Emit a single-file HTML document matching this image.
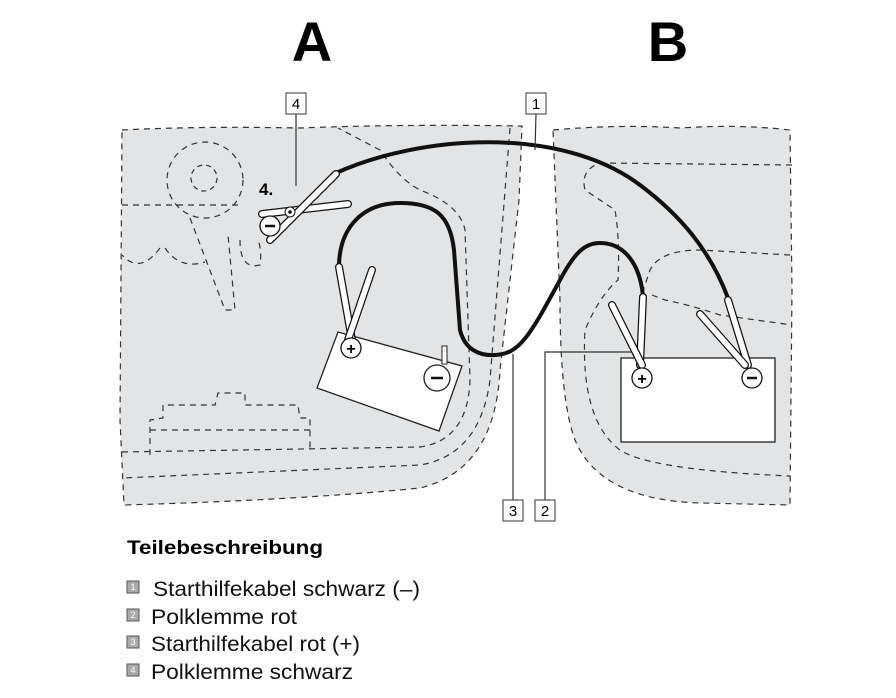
<!DOCTYPE html>
<html><head><meta charset="utf-8"><style>
html,body{margin:0;padding:0;background:#fff;width:896px;height:698px;overflow:hidden}
svg{display:block}
</style></head><body>
<svg width="896" height="698" viewBox="0 0 896 698" xmlns="http://www.w3.org/2000/svg" font-family="Liberation Sans, Arial, sans-serif">
<text x="312" y="61" font-size="56" font-weight="bold" text-anchor="middle">A</text>
<text x="668" y="61" font-size="56" font-weight="bold" text-anchor="middle">B</text>

<!-- car A -->
<path d="M122,130 Q200,126 300,128 Q400,124 522,126 L519,200 L500,370 Q495,470 420,488 Q300,500 124,505 L120,420 L122,130Z" fill="#e3e4e5" stroke="#333" stroke-width="1.2" stroke-dasharray="6,5"/>
<path d="M510,128 L490,380 Q480,455 420,465 L122,478" fill="none" stroke="#333" stroke-width="1.2" stroke-dasharray="6,5"/>
<path d="M122,452 L420,447 Q468,440 470,380 L465,230 Q460,205 420,190 Q400,180 380,150 L338,128" fill="none" stroke="#333" stroke-width="1.2" stroke-dasharray="6,5"/>
<circle cx="205" cy="180" r="38" fill="none" stroke="#333" stroke-width="1.2" stroke-dasharray="6,5"/>
<circle cx="204" cy="178" r="13" fill="none" stroke="#333" stroke-width="1.2" stroke-dasharray="5,4"/>
<path d="M122,205 L240,205 M190,218 L225,310 L235,310 L228,235 M160,248 Q140,275 122,255 M165,248 Q180,270 205,262 M240,240 Q240,270 260,265 Q262,250 258,240" fill="none" stroke="#333" stroke-width="1.2" stroke-dasharray="6,5"/>
<path d="M150,455 L150,420 L163,418 L163,405 L215,405 L218,393 L245,393 L245,405 L298,405 L300,418 L310,418 L310,448 M150,430 L310,430" fill="none" stroke="#333" stroke-width="1.2" stroke-dasharray="6,5"/>

<!-- car B -->
<path d="M553,130 Q620,124 680,128 Q740,124 790,130 L792,290 L790,505 L700,503 Q600,500 575,440 Q560,400 560,300 L553,130Z" fill="#e3e4e5" stroke="#333" stroke-width="1.2" stroke-dasharray="6,5"/>
<path d="M792,165 L600,163 Q580,170 585,190 Q600,200 615,210 Q620,240 618,280 Q600,295 585,330 Q580,420 620,450 Q650,470 790,476" fill="none" stroke="#333" stroke-width="1.2" stroke-dasharray="6,5"/>
<path d="M790,255 L700,250 Q660,250 650,270 L640,300 M652,295 L665,300 Q690,305 720,315 L792,325" fill="none" stroke="#333" stroke-width="1.2" stroke-dasharray="6,5"/>

<!-- batteries -->
<polygon points="317,388 338,332 462,366 439,431" fill="#fff" stroke="#222" stroke-width="1.3"/>
<rect x="621" y="358" width="154" height="84" fill="#fff" stroke="#222" stroke-width="1.3"/>
<rect x="442" y="346" width="5" height="18" fill="#fff" stroke="#222"/>
<circle cx="437" cy="378" r="13" fill="#fff" stroke="#222" stroke-width="1.3"/>
<line x1="431" y1="378" x2="443" y2="378" stroke="#111" stroke-width="2.5"/>

<!-- cables -->
<path d="M336,173 C420,135 560,125 640,185 C680,215 710,250 728,298" fill="none" stroke="#111" stroke-width="4"/>
<path d="M339,265 C340,225 365,203 400,203 C435,203 450,215 454,250 L460,330 C465,350 480,356 495,355 C520,354 530,335 560,280 C575,252 585,243 600,243 C625,243 640,265 643,296" fill="none" stroke="#111" stroke-width="4"/>

<!-- clamp 4 -->
<g>
<line x1="262" y1="214" x2="348" y2="204" stroke="#111" stroke-width="8" stroke-linecap="round"/>
<line x1="262" y1="214" x2="348" y2="204" stroke="#fff" stroke-width="5.5" stroke-linecap="round"/>
<line x1="270" y1="240" x2="336" y2="174" stroke="#111" stroke-width="8" stroke-linecap="round"/>
<line x1="270" y1="240" x2="336" y2="174" stroke="#fff" stroke-width="5.5" stroke-linecap="round"/>
<circle cx="290" cy="212" r="5" fill="#fff" stroke="#111"/><circle cx="290" cy="212" r="1.8" fill="#111"/>
<circle cx="270" cy="226" r="10" fill="#fff" stroke="#111" stroke-width="1.3"/>
<line x1="265" y1="226" x2="275" y2="226" stroke="#111" stroke-width="2.5"/>
</g>
<text x="259" y="195" font-size="17" font-weight="bold">4.</text>
<!-- clamp A + -->
<g>
<line x1="352" y1="340" x2="339" y2="267" stroke="#111" stroke-width="8" stroke-linecap="round"/>
<line x1="352" y1="340" x2="339" y2="267" stroke="#fff" stroke-width="5.5" stroke-linecap="round"/>
<line x1="348" y1="340" x2="372" y2="270" stroke="#111" stroke-width="8" stroke-linecap="round"/>
<line x1="348" y1="340" x2="372" y2="270" stroke="#fff" stroke-width="5.5" stroke-linecap="round"/>
<circle cx="351" cy="348" r="10" fill="#fff" stroke="#111" stroke-width="1.3"/>
<text x="351" y="354" font-size="16" font-weight="bold" text-anchor="middle">+</text>
</g>
<!-- clamp B + -->
<g>
<line x1="640" y1="365" x2="643" y2="297" stroke="#111" stroke-width="8" stroke-linecap="round"/>
<line x1="640" y1="365" x2="643" y2="297" stroke="#fff" stroke-width="5.5" stroke-linecap="round"/>
<line x1="642" y1="365" x2="612" y2="305" stroke="#111" stroke-width="8" stroke-linecap="round"/>
<line x1="642" y1="365" x2="612" y2="305" stroke="#fff" stroke-width="5.5" stroke-linecap="round"/>
<circle cx="642" cy="378" r="10" fill="#fff" stroke="#111" stroke-width="1.3"/>
<text x="642" y="384" font-size="16" font-weight="bold" text-anchor="middle">+</text>
</g>
<!-- clamp B - -->
<g>
<line x1="748" y1="365" x2="728" y2="300" stroke="#111" stroke-width="8" stroke-linecap="round"/>
<line x1="748" y1="365" x2="728" y2="300" stroke="#fff" stroke-width="5.5" stroke-linecap="round"/>
<line x1="745" y1="365" x2="700" y2="314" stroke="#111" stroke-width="8" stroke-linecap="round"/>
<line x1="745" y1="365" x2="700" y2="314" stroke="#fff" stroke-width="5.5" stroke-linecap="round"/>
<circle cx="752" cy="378" r="10" fill="#fff" stroke="#111" stroke-width="1.3"/>
<line x1="747" y1="378" x2="757" y2="378" stroke="#111" stroke-width="2.5"/>
</g>

<!-- leaders -->
<g stroke="#333" stroke-width="1.2" fill="none">
<line x1="296" y1="114" x2="296" y2="186"/>
<line x1="536" y1="114" x2="535" y2="150"/>
<line x1="513" y1="500" x2="513" y2="354"/>
<polyline points="545,500 545,352 632,352"/>
</g>
<g font-size="15" text-anchor="middle">
<rect x="286" y="93" width="20" height="21" fill="#fff" stroke="#333"/><text x="296" y="109">4</text>
<rect x="526" y="93" width="20" height="21" fill="#fff" stroke="#333"/><text x="536" y="109">1</text>
<rect x="503" y="500" width="20" height="21" fill="#fff" stroke="#333"/><text x="513" y="516">3</text>
<rect x="535" y="500" width="20" height="21" fill="#fff" stroke="#333"/><text x="545" y="516">2</text>
</g>

<!-- legend -->
<text x="127" y="554" font-size="19" font-weight="bold" textLength="196" lengthAdjust="spacingAndGlyphs">Teilebeschreibung</text>
<g font-size="9" text-anchor="middle">
<rect x="127" y="581" width="12" height="12" fill="#aaa" stroke="#555"/><text x="133" y="590" fill="#fff">1</text>
<rect x="127" y="609" width="12" height="12" fill="#aaa" stroke="#555"/><text x="133" y="618" fill="#fff">2</text>
<rect x="127" y="636" width="12" height="12" fill="#aaa" stroke="#555"/><text x="133" y="645" fill="#fff">3</text>
<rect x="127" y="664" width="12" height="12" fill="#aaa" stroke="#555"/><text x="133" y="673" fill="#fff">4</text>
</g>
<g font-size="21" fill="#111">
<text x="153" y="596" textLength="267" lengthAdjust="spacingAndGlyphs">Starthilfekabel schwarz (–)</text>
<text x="151" y="624" textLength="146" lengthAdjust="spacingAndGlyphs">Polklemme rot</text>
<text x="151" y="651" textLength="209" lengthAdjust="spacingAndGlyphs">Starthilfekabel rot (+)</text>
<text x="151" y="679" textLength="202" lengthAdjust="spacingAndGlyphs">Polklemme schwarz</text>
</g>
</svg>
</body></html>
